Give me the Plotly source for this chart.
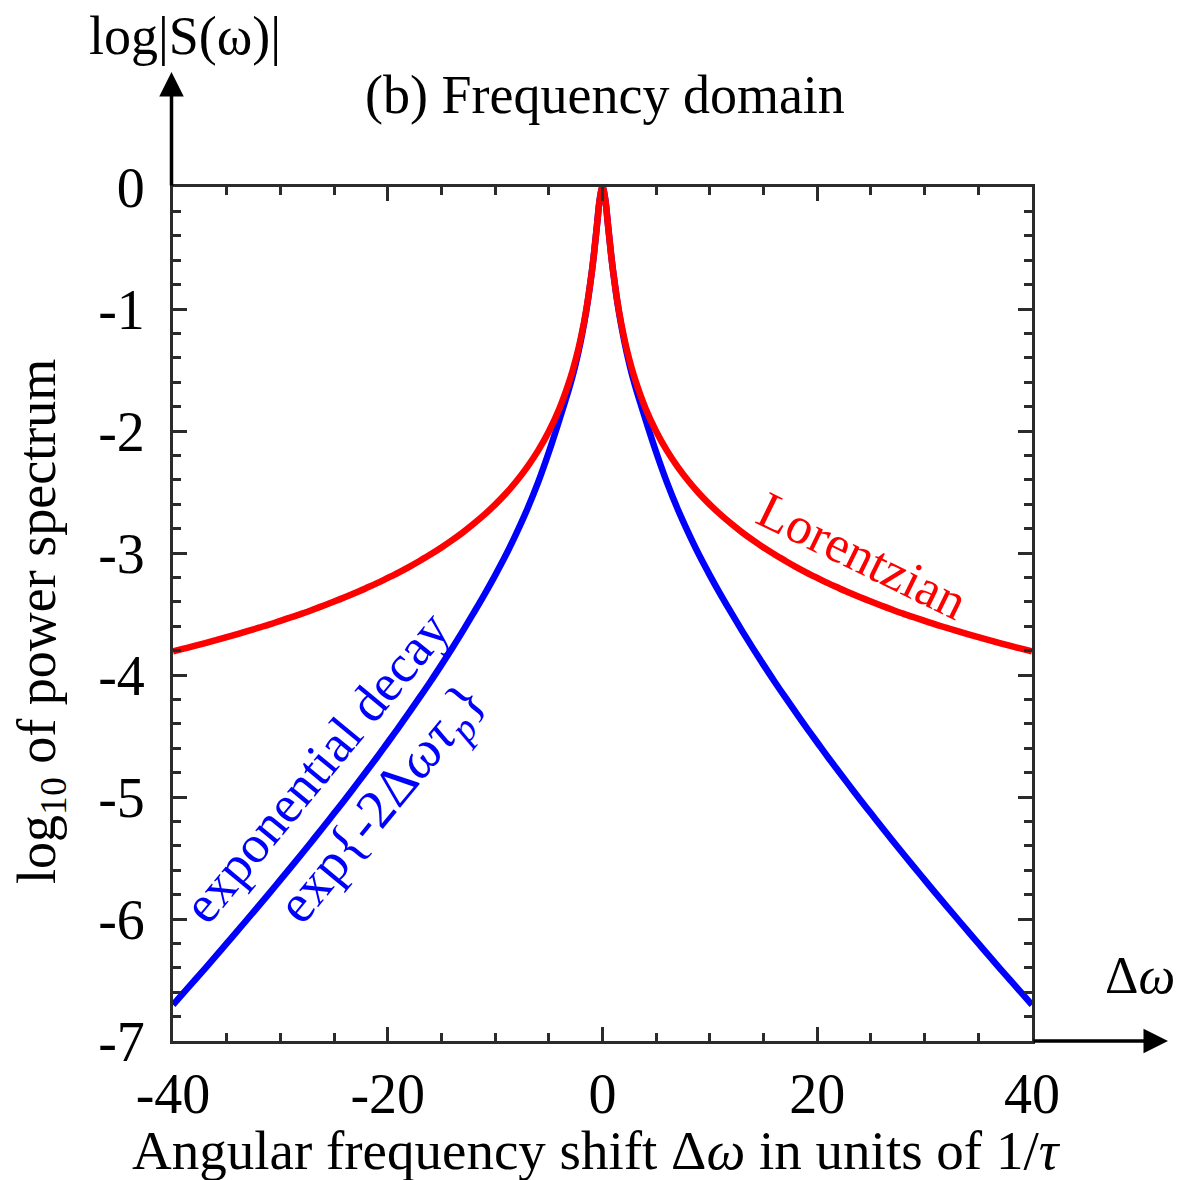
import plotly.graph_objects as go

# Angular frequency shift (units of 1/tau), positive half; spectrum is symmetric
dw_pos = [0, 0.25, 0.5, 0.75, 1, 1.5, 2, 2.5, 3, 4, 5, 6, 7, 8, 9, 10,
          11, 12, 13, 14, 15, 16, 17, 18, 19, 20, 21, 22, 23, 24, 25,
          26, 27, 28, 29, 30, 31, 32, 33, 34, 35, 36, 37, 38, 39, 40]
# log10 of power spectrum
lorentz_pos = [0, -0.097, -0.301, -0.512, -0.699, -1.000, -1.230, -1.415, -1.568,
               -1.813, -2.004, -2.161, -2.294, -2.410, -2.512, -2.603, -2.686, -2.761,
               -2.831, -2.895, -2.955, -3.011, -3.063, -3.113, -3.160, -3.204, -3.247,
               -3.287, -3.326, -3.363, -3.398, -3.432, -3.465, -3.497, -3.527, -3.556,
               -3.585, -3.612, -3.639, -3.665, -3.690, -3.715, -3.739, -3.762, -3.784,
               -3.806]
expdecay_pos = [0, -0.097, -0.301, -0.512, -0.699, -1.010, -1.250, -1.450, -1.618,
                -1.903, -2.174, -2.421, -2.639, -2.835, -3.017, -3.183, -3.341, -3.491,
                -3.638, -3.780, -3.917, -4.051, -4.180, -4.307, -4.432, -4.553, -4.674,
                -4.791, -4.907, -5.022, -5.134, -5.246, -5.356, -5.465, -5.573, -5.679,
                -5.786, -5.890, -5.994, -6.098, -6.200, -6.303, -6.404, -6.504, -6.604,
                -6.703]

x_tickvals = [-40, -20, 0, 20, 40]
x_ticktext = ["-40", "-20", "0", "20", "40"]
y_tickvals = [0, -1, -2, -3, -4, -5, -6, -7]
y_ticktext = ["0", "-1", "-2", "-3", "-4", "-5", "-6", "-7"]

dw = [-v for v in dw_pos[::-1]] + dw_pos[1:]
lorentz = lorentz_pos[::-1] + lorentz_pos[1:]
expdecay = expdecay_pos[::-1] + expdecay_pos[1:]

FONT = "Liberation Serif"
AX = "#2b2b2b"

fig = go.Figure()
fig.add_trace(go.Scatter(x=dw, y=expdecay, mode="lines",
                         line=dict(color="#0000ff", width=6.5, shape="spline",
                                   smoothing=1.0, simplify=False),
                         showlegend=False))
fig.add_trace(go.Scatter(x=dw, y=lorentz, mode="lines",
                         line=dict(color="#ff0000", width=6.5, shape="spline",
                                   smoothing=1.0, simplify=False),
                         showlegend=False))

W, H = 1178, 1180
L, R, T, B = 173, 1032, 187, 1041


def px(xp):
    return (xp - L) / (R - L)


def py(yp):
    return (B - yp) / (B - T)


axis_common = dict(
    showline=True, linecolor=AX, linewidth=3, mirror="ticks",
    ticks="inside", ticklen=14, tickwidth=3, tickcolor=AX,
    showgrid=False, zeroline=False,
    tickfont=dict(family=FONT, size=56, color="black"),
)

fig.update_xaxes(range=[-40, 40], tickvals=x_tickvals, ticktext=x_ticktext,
                 minor=dict(ticks="inside", ticklen=8, tickwidth=3, tickcolor=AX,
                            dtick=5, tick0=0, showgrid=False),
                 ticklabelstandoff=2, **axis_common)
fig.update_yaxes(range=[-7, 0], tickvals=y_tickvals, ticktext=y_ticktext,
                 minor=dict(ticks="inside", ticklen=8, tickwidth=3, tickcolor=AX,
                            dtick=0.2, tick0=0, showgrid=False),
                 ticklabelstandoff=14, **axis_common)

ann = []


def label(xc, yc, text, size, color="black", angle=0):
    ann.append(dict(xref="paper", yref="paper", x=px(xc), y=py(yc), text=text,
                    xanchor="center", yanchor="middle", showarrow=False,
                    textangle=angle, font=dict(family=FONT, size=size, color=color)))


label(605, 95, "(b) Frequency domain", 54)
label(185, 36, "log|S(ω)|", 54)
label(1140, 975, "Δ<i>ω</i>", 52)
label(596, 1150, "Angular frequency shift Δ<i>ω</i> in units of 1/<i>τ</i>", 55)
label(40, 622, "log<sub>10</sub> of power spectrum", 54, angle=-90)
label(862, 555, "Lorentzian", 52, "#ff0000", 26)
label(316, 767, "exponential decay", 53, "#0000ff", -50.5)
label(383, 805, "exp{-2Δ<i>ωτ</i><sub><i>p</i></sub>}", 55, "#0000ff", -50.5)

# axis arrows
ann.append(dict(xref="paper", yref="paper", axref="pixel", ayref="pixel",
                x=px(171.5), y=py(72), ax=0, ay=115, text="", showarrow=True,
                arrowhead=2, arrowsize=1.4, arrowwidth=3.5, arrowcolor="black", standoff=0))
ann.append(dict(xref="paper", yref="paper", axref="pixel", ayref="pixel",
                x=px(1168), y=py(1041), ax=-136, ay=0, text="", showarrow=True,
                arrowhead=2, arrowsize=1.4, arrowwidth=3.5, arrowcolor="black", standoff=0))

fig.update_layout(width=W, height=H, margin=dict(l=L, r=W - R, t=T, b=H - B),
                  plot_bgcolor="white", paper_bgcolor="white", annotations=ann,
                  font=dict(family=FONT))
fig.write_html("out.html")
